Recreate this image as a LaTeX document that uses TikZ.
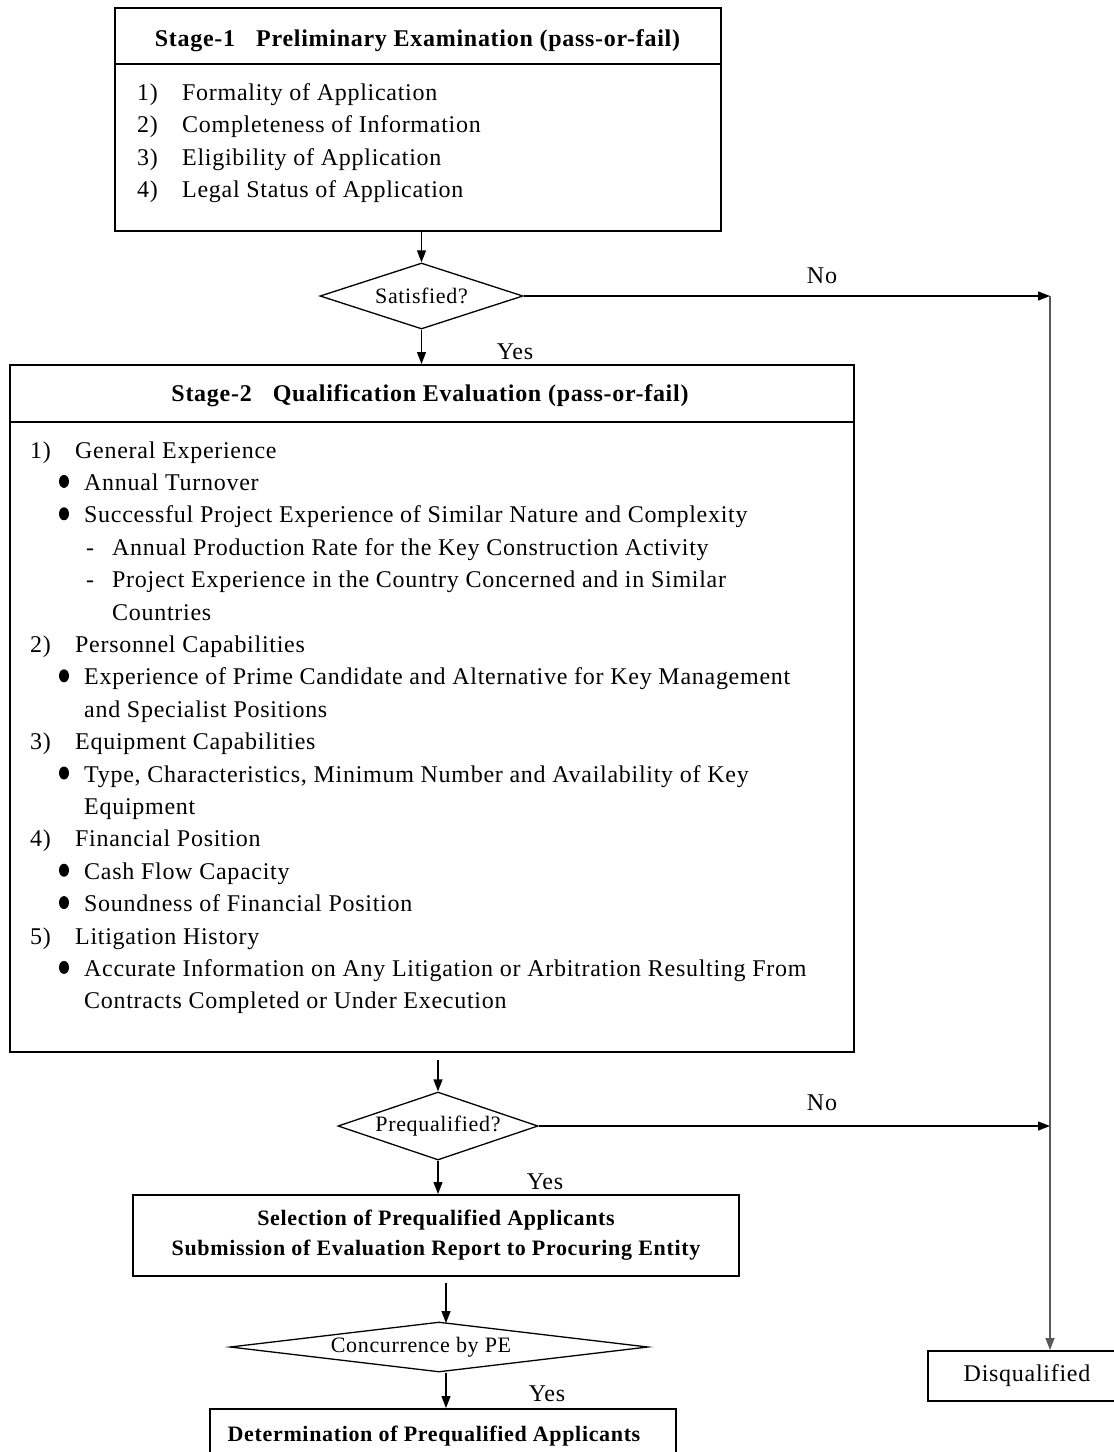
\documentclass[tikz,border=0pt]{standalone}
\usepackage{fontspec}
\setmainfont{Liberation Serif}[LetterSpace=3]
\usetikzlibrary{shapes.geometric,arrows.meta}
\newcommand\fsz{\fontsize{24}{30}\selectfont}
\newcommand\dsz{\fontsize{22}{26}\selectfont}
\begin{document}
\begin{tikzpicture}[x=1pt,y=-1pt,
  ln/.style={anchor=base west, inner sep=0pt, font=\fsz},
  lbl/.style={anchor=base, inner sep=0pt, font=\fsz},
  bul/.style={ellipse, fill=black, inner sep=0pt, minimum width=10pt, minimum height=13pt},
  stagebox/.style={draw, line width=2pt, rectangle, inner sep=0pt},
  decision/.style={draw, line width=1.3pt, diamond, inner sep=0pt, font=\dsz},
  arr/.style={line width=1.3pt, -{Triangle[length=12pt,width=9pt]}},
  plain/.style={line width=1.3pt}
]
\useasboundingbox (0,0) rectangle (1114,1452);
\clip (0,0) rectangle (1114,1452);
\fill[white] (0,0) rectangle (1114,1452);

% ---------- Stage 1 ----------
\node[stagebox, minimum width=606pt, minimum height=223pt] (s1) at (418,119.5) {};
\draw[line width=2pt] (115,64) -- (721,64);
\node[lbl, font=\fsz\bfseries] (s1title) at (417.5,46) {Stage-1\hspace{21pt}Preliminary Examination (pass-or-fail)};
\node[ln] (s1n1) at (137,100) {1)};   \node[ln] (s1t1) at (182,100) {Formality of Application};
\node[ln] (s1n2) at (137,132.5) {2)}; \node[ln] (s1t2) at (182,132.5) {Completeness of Information};
\node[ln] (s1n3) at (137,165) {3)};   \node[ln] (s1t3) at (182,165) {Eligibility of Application};
\node[ln] (s1n4) at (137,197.5) {4)}; \node[ln] (s1t4) at (182,197.5) {Legal Status of Application};

% ---------- Decision 1 ----------
\node[decision, aspect=3.08, minimum width=203pt, minimum height=66pt] (sat) at (421.5,296) {Satisfied?};

% ---------- Stage 2 ----------
\node[stagebox, minimum width=844pt, minimum height=687pt] (s2) at (432,708.5) {};
\draw[line width=2pt] (10,422) -- (854,422);
\node[lbl, font=\fsz\bfseries] (s2title) at (430,401) {Stage-2\hspace{21pt}Qualification Evaluation (pass-or-fail)};

\node[ln] (n1) at (30,{458+32.4*0}) {1)};  \node[ln] (t0) at (75,{458+32.4*0}) {General Experience};
\node[bul] (b1) at (64,{449+32.4*1}) {};   \node[ln] (t1) at (84,{458+32.4*1}) {Annual Turnover};
\node[bul] (b2) at (64,{449+32.4*2}) {};   \node[ln] (t2) at (84,{458+32.4*2}) {Successful Project Experience of Similar Nature and Complexity};
\node[ln] (d3) at (86,{458+32.4*3}) {-};   \node[ln] (t3) at (112,{458+32.4*3}) {Annual Production Rate for the Key Construction Activity};
\node[ln] (d4) at (86,{458+32.4*4}) {-};   \node[ln] (t4) at (112,{458+32.4*4}) {Project Experience in the Country Concerned and in Similar};
\node[ln] (t5) at (112,{458+32.4*5}) {Countries};
\node[ln] (n2) at (30,{458+32.4*6}) {2)};  \node[ln] (t6) at (75,{458+32.4*6}) {Personnel Capabilities};
\node[bul] (b7) at (64,{449+32.4*7}) {};   \node[ln] (t7) at (84,{458+32.4*7}) {Experience of Prime Candidate and Alternative for Key Management};
\node[ln] (t8) at (84,{458+32.4*8}) {and Specialist Positions};
\node[ln] (n3) at (30,{458+32.4*9}) {3)};  \node[ln] (t9) at (75,{458+32.4*9}) {Equipment Capabilities};
\node[bul] (b10) at (64,{449+32.4*10}) {}; \node[ln] (t10) at (84,{458+32.4*10}) {Type, Characteristics, Minimum Number and Availability of Key};
\node[ln] (t11) at (84,{458+32.4*11}) {Equipment};
\node[ln] (n4) at (30,{458+32.4*12}) {4)}; \node[ln] (t12) at (75,{458+32.4*12}) {Financial Position};
\node[bul] (b13) at (64,{449+32.4*13}) {}; \node[ln] (t13) at (84,{458+32.4*13}) {Cash Flow Capacity};
\node[bul] (b14) at (64,{449+32.4*14}) {}; \node[ln] (t14) at (84,{458+32.4*14}) {Soundness of Financial Position};
\node[ln] (n5) at (30,{458+32.4*15}) {5)}; \node[ln] (t15) at (75,{458+32.4*15}) {Litigation History};
\node[bul] (b16) at (64,{449+32.4*16}) {}; \node[ln] (t16) at (84,{458+32.4*16}) {Accurate Information on Any Litigation or Arbitration Resulting From};
\node[ln] (t17) at (84,{458+32.4*17}) {Contracts Completed or Under Execution};

% ---------- Decision 2 ----------
\node[decision, aspect=2.94, minimum width=200pt, minimum height=68pt] (preq) at (438,1126) {Prequalified?};

% ---------- Selection box ----------
\node[stagebox, minimum width=606pt, minimum height=81pt, align=center,
      font=\fontsize{22}{30}\selectfont\bfseries] (sel) at (436,1235.5)
  {Selection of Prequalified Applicants\\Submission of Evaluation Report to Procuring Entity};

% ---------- Decision 3 ----------
\node[decision, aspect=8.36, minimum width=418pt, minimum height=50pt] (conc) at (439,1347) {\hspace*{-36pt}Concurrence by PE};

% ---------- Final boxes ----------
\node[stagebox, minimum width=466pt, minimum height=64pt, anchor=north west,
      font=\fontsize{22}{26}\selectfont\bfseries] (det) at (209,1408)
  {\raisebox{14pt}{\hspace*{-18pt}Determination of Prequalified Applicants}};
\node[draw, line width=2pt, minimum width=202pt, minimum height=50pt, inner sep=0pt,
      anchor=north west, font=\fsz] (dq) at (927,1350) {\hspace*{-4pt}Disqualified};

% ---------- Connectors ----------
\coordinate (r1) at (1050,296);
\coordinate (r2) at (1050,1126);
\coordinate (g1) at (438,1060);
\coordinate (g2) at (446,1283);

\draw[arr] (s1.south -| sat.north) -- (sat.north);
\draw[arr] (sat.south) -- (sat.south |- s2.north);
\draw[arr] (sat.east) -- (r1);
\draw[plain, black!65] (r1) -- (r2);
\draw[arr, black!65] (r2) -- (r2 |- dq.north);
\draw[arr] (g1) -- (preq.north);
\draw[arr] (preq.east) -- (r2);
\draw[arr] (preq.south) -- (preq.south |- sel.north);
\draw[arr] (g2) -- (446,1323);
\draw[arr] (g2 |- conc.south) -- (g2 |- det.north);

% ---------- Labels ----------
\node[lbl] (no1) at (822,283) {No};
\node[lbl] (yes1) at (515,359) {Yes};
\node[lbl] (no2) at (822,1110) {No};
\node[lbl] (yes2) at (545,1189) {Yes};
\node[lbl] (yes3) at (547,1401) {Yes};
\end{tikzpicture}
\end{document}
